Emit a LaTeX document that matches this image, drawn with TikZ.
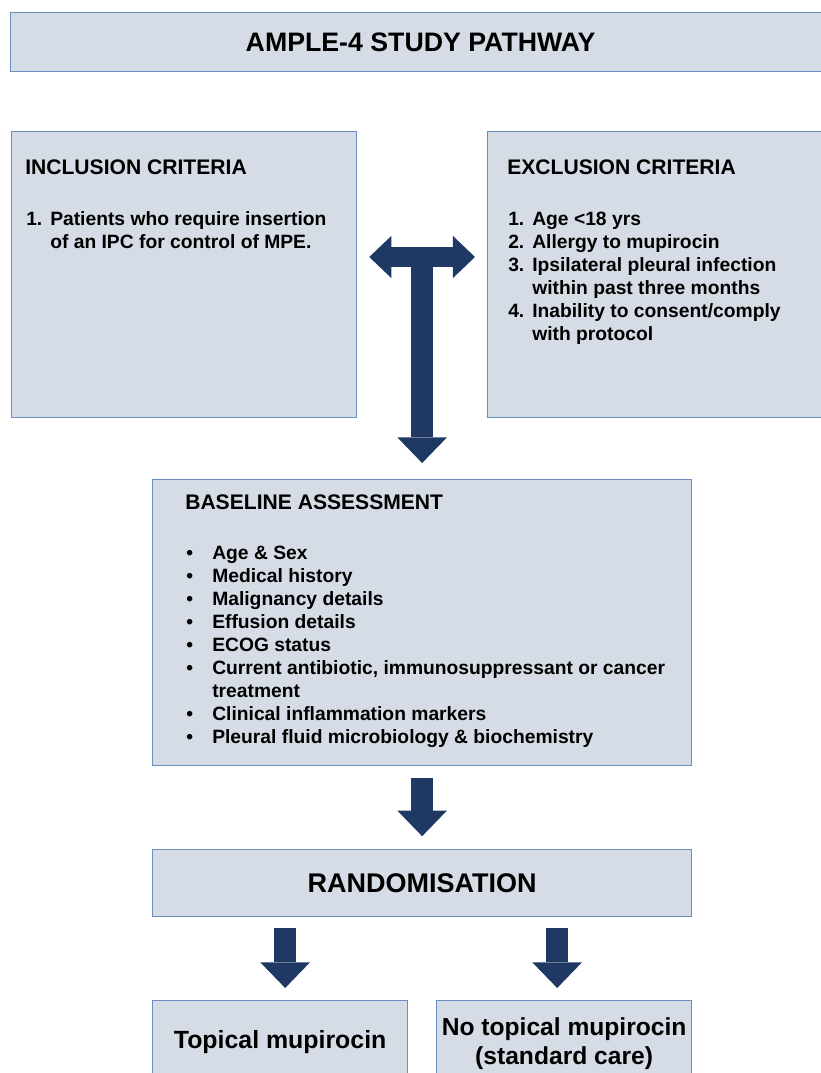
\documentclass[tikz,border=0pt]{standalone}
\usepackage{fontspec}
\setmainfont{Liberation Sans}
\usetikzlibrary{arrows.meta}

\newlength\pxu
\setlength\pxu{0.025cm}
\definecolor{boxfill}{HTML}{D6DCE5}
\definecolor{boxline}{HTML}{6C8EBF}
\definecolor{navy}{HTML}{203864}
\newcommand\listnum[1]{\makebox[24\pxu][l]{#1}}
\newcommand\listgap{\hspace*{24\pxu}}
\newcommand\dotitem{\makebox[26\pxu][l]{\textbullet}}

\tikzset{
  panel/.style={draw=boxline, fill=boxfill, line width=0.9pt, inner sep=0pt, anchor=north west},
  heading/.style={anchor=base west, inner sep=0pt, font=\fontsize{15}{18}\selectfont\bfseries},
  items/.style={anchor=north west, inner sep=0pt, align=left, font=\fontsize{13.7}{16.4}\selectfont\bfseries},
  hbar/.style={draw=navy, line width=0.5cm, {Triangle[width=1.05cm,length=0.55cm,line width=0pt]}-{Triangle[width=1.05cm,length=0.55cm,line width=0pt]}},
  vbar/.style={draw=navy, line width=0.56cm, -{Triangle[width=1.24cm,length=0.64cm,line width=0pt]}}
}

\begin{document}
\begin{tikzpicture}[x=0.025cm,y=-0.025cm]
\useasboundingbox (0,0) rectangle (821,1073);
\clip (0,0) rectangle (821,1073);

% boxes
\node[panel, minimum width=820\pxu, minimum height=59\pxu, font=\fontsize{19}{22}\selectfont\bfseries] (title) at (10,12) {AMPLE-4 STUDY PATHWAY};
\node[panel, minimum width=345\pxu, minimum height=286\pxu] (incl) at (11,131) {};
\node[panel, minimum width=360\pxu, minimum height=286\pxu] (excl) at (487,131) {};
\node[panel, minimum width=539\pxu, minimum height=286\pxu] (baseline) at (152,479) {};
\node[panel, minimum width=539\pxu, minimum height=67\pxu, font=\fontsize{19.2}{22}\selectfont\bfseries] (random) at (152,849) {RANDOMISATION};
\node[panel, minimum width=255\pxu, minimum height=100\pxu] (topical) at (152,1000) {};
\node[panel, minimum width=255\pxu, minimum height=100\pxu] (notopical) at (436,1000) {};

% criteria
\node[heading] (incltitle) at ([xshift=14\pxu,yshift=-43\pxu]incl.north west) {INCLUSION CRITERIA};
\node[items] (incllist) at ([xshift=15\pxu,yshift=-78\pxu]incl.north west)
  {\strut\listnum{1.}Patients who require insertion\\
   \listgap of an IPC for control of MPE.};
\node[heading] (excltitle) at ([xshift=20\pxu,yshift=-43\pxu]excl.north west) {EXCLUSION CRITERIA};
\node[items] (excllist) at ([xshift=21\pxu,yshift=-78\pxu]excl.north west)
  {\strut\listnum{1.}Age <18 yrs\\
   \listnum{2.}Allergy to mupirocin\\
   \listnum{3.}Ipsilateral pleural infection\\
   \listgap within past three months\\
   \listnum{4.}Inability to consent/comply\\
   \listgap with protocol};

% baseline
\node[heading] (basetitle) at ([xshift=33\pxu,yshift=-30.5\pxu]baseline.north west) {BASELINE ASSESSMENT};
\node[items] (baselist) at ([xshift=34\pxu,yshift=-64\pxu]baseline.north west)
  {\strut\dotitem Age \& Sex\\
   \dotitem Medical history\\
   \dotitem Malignancy details\\
   \dotitem Effusion details\\
   \dotitem ECOG status\\
   \dotitem Current antibiotic, immunosuppressant or cancer\\
   \makebox[26\pxu]{}treatment\\
   \dotitem Clinical inflammation markers\\
   \dotitem Pleural fluid microbiology \& biochemistry};

% arms
\node[anchor=base, inner sep=0pt, font=\fontsize{17.7}{20.6}\selectfont\bfseries] (topicaltxt) at ([yshift=-48\pxu]topical.north) {Topical mupirocin};
\node[anchor=north, inner sep=0pt, align=center, font=\fontsize{17.5}{20.6}\selectfont\bfseries] (notopicaltxt) at ([yshift=-15\pxu]notopical.north) {\strut No topical mupirocin\\(standard care)};

% arrows
\path (baseline.north) ++(0,-222) coordinate (tee);
\draw[hbar, shorten <=0.3cm, shorten >=0.3cm] (incl.east |- tee) -- (excl.west |- tee);
\draw[vbar, shorten >=0.4cm] ([yshift=0.25cm]tee) -- (baseline.north);
\draw[vbar, shorten <=0.3cm, shorten >=0.32cm] (baseline.south) -- (random.north);
\coordinate (lsplit) at ([xshift=-137\pxu]random.south);
\coordinate (rsplit) at ([xshift=135\pxu]random.south);
\draw[vbar, shorten <=0.28cm, shorten >=0.3cm] (lsplit) -- (lsplit |- topical.north);
\draw[vbar, shorten <=0.28cm, shorten >=0.3cm] (rsplit) -- (rsplit |- notopical.north);
\end{tikzpicture}
\end{document}
